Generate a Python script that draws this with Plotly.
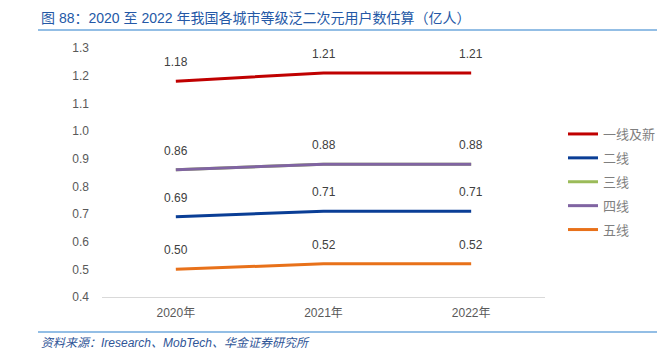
import plotly.graph_objects as go

years = ["2020年", "2021年", "2022年"]
series_names = ["一线及新", "二线", "三线", "四线", "五线"]
tier1 = [1.18, 1.21, 1.21]
tier2 = [0.69, 0.71, 0.71]
tier3 = [0.86, 0.88, 0.88]
tier4 = [0.86, 0.88, 0.88]
tier5 = [0.50, 0.52, 0.52]
colors = ["#C00000", "#0A3E96", "#9BBB59", "#8064A2", "#E8711A"]
yticks = [0.4, 0.5, 0.6, 0.7, 0.8, 0.9, 1.0, 1.1, 1.2, 1.3]

title = "图 88：2020 至 2022 年我国各城市等级泛二次元用户数估算（亿人）"
source = "资料来源：Iresearch、MobTech、华金证券研究所"

FONT = "Liberation Sans, Arial, Noto Sans CJK SC"

fig = go.Figure()
all_series = [tier1, tier2, tier3, tier4, tier5]
for i, (name, vals) in enumerate(zip(series_names, all_series)):
    fig.add_trace(go.Scatter(
        x=years, y=vals, name=name, mode="lines",
        line=dict(color=colors[i], width=3),
        legendgroup=name, hoverinfo="skip",
    ))

# data labels
label_series = [tier1, tier2, tier3, tier5]
for vals in label_series:
    for xv, yv in zip(years, vals):
        fig.add_annotation(x=xv, y=yv, text=f"{yv:.2f}", showarrow=False,
                           yshift=19, font=dict(size=12, color="#404040", family=FONT))

W0, W1 = 102, 545
T, B = 48, 297
pw = W1 - W0
ph = B - T
def px(x):
    return (x - W0) / pw
def py(y):
    return (B - y) / ph

fig.add_shape(type="line", xref="paper", yref="paper", x0=px(38), x1=px(657), y0=py(30), y1=py(30),
              line=dict(color="#6FA8DC", width=1.5))
fig.add_shape(type="line", xref="paper", yref="paper", x0=px(38), x1=px(657), y0=py(332), y1=py(332),
              line=dict(color="#6FA8DC", width=1.5))
fig.add_annotation(xref="paper", yref="paper", x=px(39), y=py(18), xanchor="left", yanchor="middle",
                   text=title, showarrow=False,
                   font=dict(size=14, color="#2458A6", family="Liberation Sans, Noto Sans CJK SC"))
fig.add_annotation(xref="paper", yref="paper", x=px(39), y=py(343), xanchor="left", yanchor="middle",
                   text="<i>" + source + "</i>", showarrow=False,
                   font=dict(size=12, color="#2F5597", family="Liberation Sans, Noto Sans CJK SC"))

fig.update_layout(
    width=657, height=349,
    margin=dict(l=W0, r=657 - W1, t=T, b=349 - B, autoexpand=False),
    paper_bgcolor="white", plot_bgcolor="white",
    font=dict(family=FONT, size=12, color="#595959"),
    xaxis=dict(showgrid=False, showline=True, linecolor="#D9D9D9", linewidth=1,
               ticks="", tickfont=dict(size=12, color="#595959"), range=[-0.5, 2.5],
               fixedrange=True, ticklabelstandoff=5),
    yaxis=dict(range=[0.4, 1.3], tickvals=yticks, ticktext=[f"{v:.1f}" for v in yticks],
               showgrid=False, zeroline=False, showline=False, ticks="",
               tickfont=dict(size=12, color="#595959"), ticklabelstandoff=12),
    legend=dict(x=px(563), y=py(119), xanchor="left", yanchor="top",
                font=dict(size=13, color="#7F7F7F", family="Noto Sans CJK SC"),
                tracegroupgap=4, itemwidth=30, bgcolor="rgba(0,0,0,0)"),
    showlegend=True,
)

fig.write_html("out.html")
